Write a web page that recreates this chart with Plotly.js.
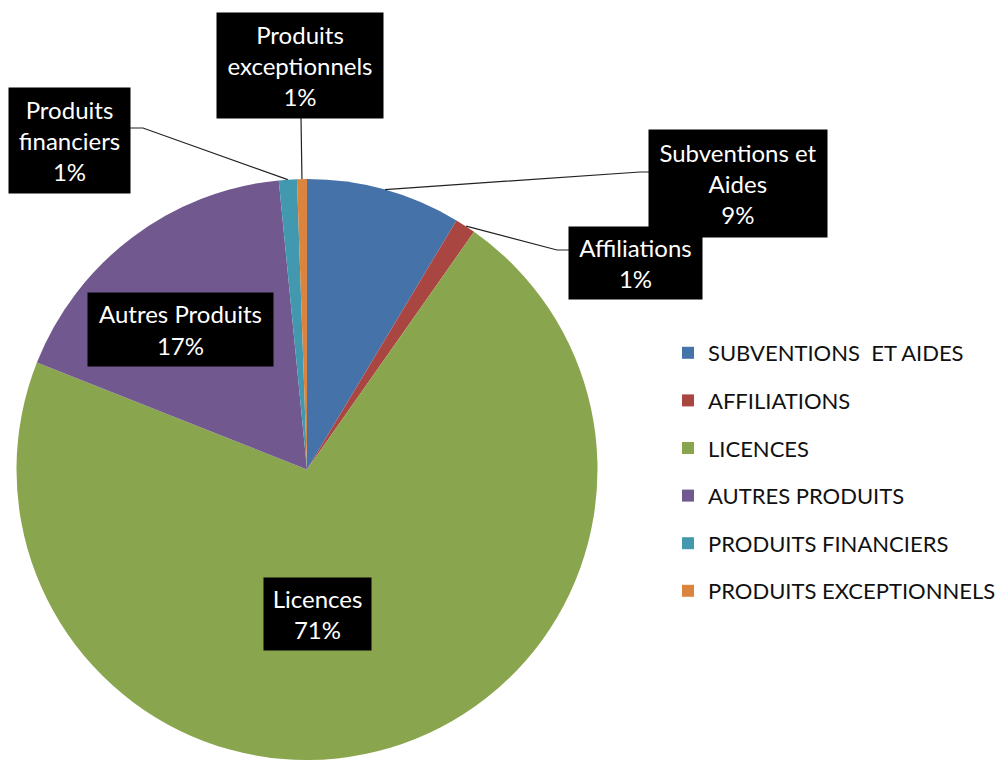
<!DOCTYPE html>
<html>
<head>
<meta charset="utf-8">
<script src="https://cdn.plot.ly/plotly-3.0.1.min.js"></script>
<style>html,body{margin:0;padding:0;background:#fff;overflow:hidden}#chart{width:1006px;height:760px}</style>
</head>
<body>
<div id="chart"></div>
<script>
// ---- data ----
const categories = ['Subventions et Aides','Affiliations','Licences','Autres Produits','Produits financiers','Produits exceptionnels'];
const legendLabels = ['SUBVENTIONS\u00a0 ET AIDES','AFFILIATIONS','LICENCES','AUTRES PRODUITS','PRODUITS FINANCIERS','PRODUITS EXCEPTIONNELS'];
const values = [8.6, 1.15, 71.25, 17.45, 1.0, 0.55];
const labelLines = ['Subventions et<br>Aides','Affiliations','Licences','Autres Produits','Produits<br>financiers','Produits<br>exceptionnels'];
const colors = ['#4672AA','#AA4642','#89A54E','#71588F','#4198AF','#DB843D'];

// ---- layout helpers ----
const W = 1006, H = 760;
const px = x => x / W, py = y => 1 - y / H;
const cx = 307, cy = 471, R = 292;

// label boxes (pixel centre, size) and leader elbows
const boxes = [
  {x:738, y:183.5, w:178, h:107, lead:[[649,172],[640,172]]},
  {x:635.5, y:262.5, w:133, h:72, lead:[[569,250],[557,250]]},
  {x:317.5, y:614, w:107, h:72, lead:null},
  {x:180.5, y:329.5, w:185, h:73, lead:null},
  {x:69.5, y:140.5, w:121, h:105, lead:[[130,128],[143,128]]},
  {x:300, y:65.5, w:166, h:105, lead:[[301,118]]}
];

const total = values.reduce((a,b)=>a+b,0);
let cum = 0;
const tips = values.map(v => {
  const a = (cum + v/2) / total * 2 * Math.PI;
  cum += v;
  return [cx + R*Math.sin(a), cy - R*Math.cos(a)];
});

const annotations = categories.map((c,i) => ({
  xref:'paper', yref:'paper', x:px(boxes[i].x), y:py(boxes[i].y),
  xanchor:'center', yanchor:'middle', showarrow:false,
  text: labelLines[i] + '<br>' + Math.round(values[i]/total*100) + '%',
  bgcolor:'#000000', borderpad:0, width:boxes[i].w, height:boxes[i].h,
  align:'center', valign:'middle',
  font:{family:'Lato, Open Sans, sans-serif', size:24, color:'#ffffff'}
}));

const shapes = [];
boxes.forEach((b,i) => {
  if (!b.lead) return;
  const pts = b.lead.concat([tips[i]]);
  const path = pts.map((p,k) => (k===0?'M ':'L ') + px(p[0]) + ' ' + py(p[1])).join(' ');
  shapes.push({type:'path', xref:'paper', yref:'paper', path:path, line:{color:'#222222', width:1.2}});
});

const pie = {
  type:'pie', labels:categories, values:values, sort:false, direction:'clockwise', rotation:0,
  marker:{colors:colors, line:{width:0}}, textinfo:'none', textposition:'none',
  hoverinfo:'none', showlegend:false,
  domain:{x:[px(cx-R), px(cx+R)], y:[0, py(cy-R)]}
};

const legendTraces = legendLabels.map((l,i) => ({
  type:'scatter', mode:'markers', x:[null], y:[null], name:l, legendgroup:'g'+i,
  marker:{symbol:'square', size:12, color:colors[i]}, hoverinfo:'skip', showlegend:true
}));

const layout = {
  width:W, height:H, margin:{l:0,r:0,t:0,b:0},
  paper_bgcolor:'#ffffff', plot_bgcolor:'#ffffff',
  xaxis:{visible:false}, yaxis:{visible:false},
  showlegend:true,
  legend:{x:px(668), y:py(332), xanchor:'left', yanchor:'top', tracegroupgap:16,
    bgcolor:'rgba(0,0,0,0)', font:{family:'Lato, Open Sans, sans-serif', size:22, color:'#111111'}},
  annotations:annotations, shapes:shapes
};

Plotly.newPlot('chart', [pie].concat(legendTraces), layout, {staticPlot:true});
</script>
</body>
</html>
